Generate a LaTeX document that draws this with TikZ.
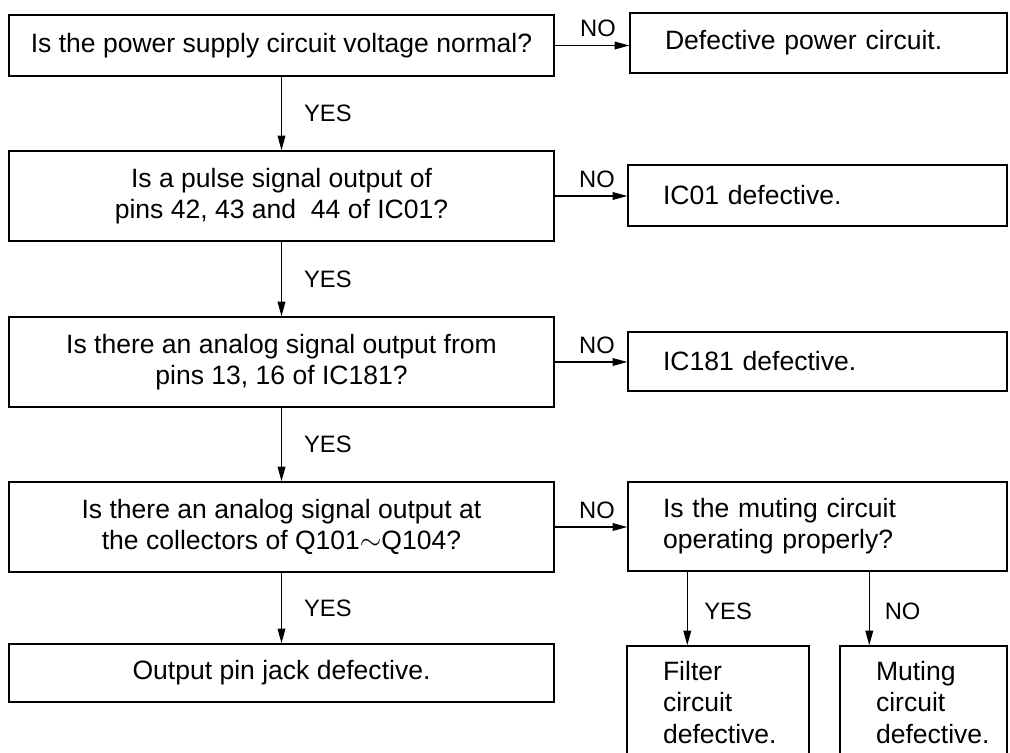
\documentclass[tikz,border=0pt]{standalone}
\usepackage{fontspec}
\setmainfont{Liberation Sans}
\usetikzlibrary{arrows.meta}
\newcommand{\mainfs}{\fontsize{19.9pt}{23.3pt}\selectfont}
\newcommand{\lblfs}{\fontsize{17.8pt}{20pt}\selectfont}
\begin{document}
\begin{tikzpicture}[x=0.75pt,y=-0.75pt,
  box/.style={draw=black, line width=1.1pt, inner ysep=0pt},
  qbox/.style={box, align=center, font=\mainfs, minimum width=408.75pt, inner xsep=0pt},
  abox/.style={box, align=left, font=\mainfs, inner xsep=26.25pt},
  sbox/.style={box, align=left, font=\mainfs, inner xsep=27pt, minimum height=84.75pt},
  arr/.style={-{Triangle[length=11pt,width=5.8pt]}, line width=0.9pt},
  lbl/.style={font=\lblfs, inner sep=0pt}]
\useasboundingbox (0,0) rectangle (1010,753);
\clip (0,0) rectangle (1010,753);

% left column questions
\node[qbox, minimum height=45.75pt] (q1) at (281.5,45.5) {Is the power supply circuit voltage normal?};
\node[qbox, minimum height=67.5pt] (q2) at (281.5,196) {Is a pulse signal output of\\pins 42, 43 and\ \ 44 of IC01?};
\node[qbox, minimum height=67.5pt] (q3) at (281.5,362) {Is there an analog signal output from\\pins 13, 16 of IC181?};
\node[qbox, minimum height=67.5pt] (q4) at (281.5,527) {Is there an analog signal output at\\the collectors of Q101$\sim$Q104?};
\node[qbox, minimum height=43.5pt] (out) at (281.5,673) {Output pin jack defective.};

% right column
\node[abox, text width=230.25pt, minimum height=45pt] (d1) at (818.5,43) {Defective power circuit.};
\node[abox, text width=231.75pt, minimum height=45.75pt] (d2) at (817.5,195.5) {IC01 defective.};
\node[abox, text width=231.75pt, minimum height=44.25pt] (d3) at (817.5,361.5) {IC181 defective.};
\node[abox, text width=231.75pt, minimum height=66.75pt] (m) at (817.5,526.5) {Is the muting circuit\\operating properly?};

% bottom right boxes (open at the bottom edge)
\node[sbox, text width=82.5pt] (f) at (718,702.5) {Filter\\circuit\\defective.};
\node[sbox, text width=71.25pt] (mu) at (923.5,702.5) {Muting\\circuit\\defective.};

\path (f.north west) ++(61,0) coordinate (fin);
\path (mu.north west) ++(30,0) coordinate (muin);

% YES connectors
\draw[arr] (q1.south) -- (q2.north) node[lbl, midway, anchor=west, xshift=16.5pt] {YES};
\draw[arr] (q2.south) -- (q3.north) node[lbl, midway, anchor=west, xshift=16.5pt] {YES};
\draw[arr] (q3.south) -- (q4.north) node[lbl, midway, anchor=west, xshift=16.5pt] {YES};
\draw[arr] (q4.south) -- (out.north) node[lbl, midway, anchor=west, xshift=16.5pt] {YES};

% NO connectors
\draw[arr] (q1.east) -- (q1.east -| d1.west) node[lbl, midway, anchor=south, xshift=4.5pt, yshift=6pt] {NO};
\draw[arr] (q2.east) -- (q2.east -| d2.west) node[lbl, midway, anchor=south, xshift=4.5pt, yshift=6pt] {NO};
\draw[arr] (q3.east) -- (q3.east -| d3.west) node[lbl, midway, anchor=south, xshift=4.5pt, yshift=6pt] {NO};
\draw[arr] (q4.east) -- (q4.east -| m.west) node[lbl, midway, anchor=south, xshift=4.5pt, yshift=6pt] {NO};

% muting branches
\draw[arr] (m.south -| fin) -- (fin) node[lbl, midway, anchor=west, xshift=12.4pt, yshift=-2pt] {YES};
\draw[arr] (m.south -| muin) -- (muin) node[lbl, midway, anchor=west, xshift=11.2pt, yshift=-2pt] {NO};
\end{tikzpicture}
\end{document}
